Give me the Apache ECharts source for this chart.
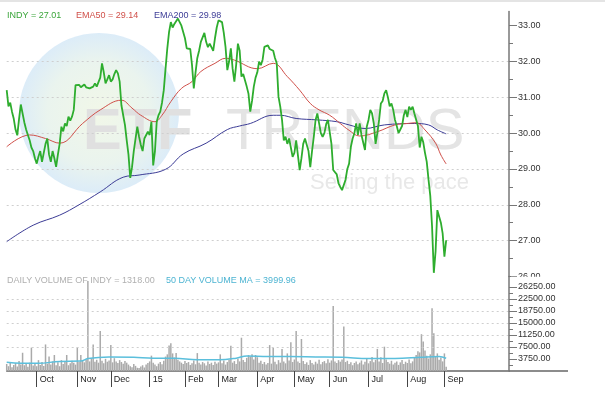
<!DOCTYPE html>
<html>
<head>
<meta charset="utf-8">
<script src="https://cdn.jsdelivr.net/npm/echarts@6/dist/echarts.min.js"></script>
<style>
html, body { margin: 0; padding: 0; background: #fff; }
#chart { width: 605px; height: 397px; }
</style>
</head>
<body>
<div id="chart"></div>
<script>
// trading day index -> month start, labels on the time axis
var monthIdx = [17, 40, 59, 81, 101, 120, 142, 163, 183, 205, 227, 248];
var monthNames = ['Oct', 'Nov', 'Dec', '15', 'Feb', 'Mar', 'Apr', 'May', 'Jun', 'Jul', 'Aug', 'Sep'];
var priceTicks = [26, 27, 28, 29, 30, 31, 32, 33];
var priceMinor = [26.5, 27.5, 28.5, 29.5, 30.5, 31.5, 32.5];
var volTicks = [3750, 7500, 11250, 15000, 18750, 22500, 26250];
var volMinor = [1875, 5625, 9375, 13125, 16875, 20625, 24375];

// daily close, one value per trading day
var price = [
  31.20, 30.75, 30.85, 30.60, 30.40, 30.10, 29.94, 30.40, 30.80, 30.55,
  30.30, 30.10, 29.95, 29.80, 29.60, 29.50, 29.30, 29.15, 29.35, 29.50,
  29.20, 29.45, 29.70, 29.85, 29.40, 29.20, 29.50, 29.30, 29.06, 29.40,
  29.70, 30.18, 30.05, 30.27, 30.20, 30.46, 30.35, 30.46, 30.65, 31.34,
  31.30, 31.35, 31.28, 31.32, 31.36, 31.28, 31.30, 31.25, 31.22, 31.30,
  31.39, 31.30, 31.35, 31.55, 31.95, 31.70, 31.39, 31.50, 31.62, 31.44,
  31.50, 31.65, 31.76, 31.67, 31.44, 30.78, 30.50, 30.23, 29.80, 29.40,
  28.75, 29.05, 29.50, 29.85, 30.18, 29.90, 29.67, 29.50, 29.85, 29.90,
  30.04, 29.95, 30.32, 29.10, 29.50, 30.32, 30.50, 30.60, 30.85, 31.20,
  31.80, 32.37, 32.83, 33.10, 32.95, 33.05, 33.00, 33.20, 33.10, 33.00,
  33.00, 32.65, 32.37, 32.40, 32.35, 31.90, 31.25, 31.70, 32.10, 32.30,
  32.55, 32.60, 32.80, 32.55, 32.40, 32.50, 32.40, 32.30, 32.65, 32.95,
  33.15, 33.20, 33.10, 32.80, 32.40, 31.76, 32.00, 32.37, 31.80, 31.44,
  31.90, 32.50, 32.30, 31.58, 31.65, 31.60, 31.30, 31.10, 30.60, 30.90,
  31.30, 31.55, 31.70, 32.00, 31.90, 32.05, 32.41, 32.40, 32.45, 32.35,
  32.40, 32.30, 32.10, 31.95, 31.02, 30.74, 30.37, 29.80, 29.90, 29.70,
  29.85, 29.60, 29.34, 29.45, 29.80, 29.85, 28.97, 29.30, 29.70, 29.85,
  29.90, 29.50, 29.05, 29.50, 29.90, 30.37, 30.55, 30.50, 30.00, 29.90,
  30.00, 30.25, 30.37, 30.35, 29.70, 28.97, 28.95, 28.85, 28.60, 28.50,
  28.41, 28.45, 28.70, 29.00, 29.15, 29.62, 29.85, 30.00, 30.27, 29.95,
  30.27, 29.95, 29.90, 29.53, 30.18, 30.37, 30.65, 30.55, 30.27, 29.70,
  30.00, 30.37, 30.83, 30.90, 31.11, 31.20, 31.00, 30.75, 30.83, 30.65,
  30.37, 30.20, 30.00, 29.95, 30.20, 30.50, 30.65, 30.45, 30.74, 30.65,
  30.74, 30.55, 30.50, 30.20, 29.60, 29.90, 29.75, 29.45, 29.20, 28.70,
  28.25, 27.40, 26.10, 26.70, 27.85, 27.90, 27.50, 27.20, 26.55, 27.01
];

// moving averages read at points along the curves: [trading day, value]
var ema50 = [
  [0, 29.62], [13, 29.95], [22, 29.85], [30, 29.72], [43, 30.27], [53, 30.65],
  [65, 30.92], [71, 30.70], [76, 30.50], [84, 30.32], [88, 30.50], [93, 30.88],
  [99, 31.25], [105, 31.44], [110, 31.72], [118, 31.95], [124, 32.09], [129, 32.04],
  [142, 31.80], [151, 31.95], [159, 31.58], [166, 31.20], [172, 30.83], [177, 30.65],
  [183, 30.50], [189, 30.27], [194, 30.08], [200, 29.92], [210, 30.04], [220, 30.23],
  [227, 30.27], [232, 30.29], [237, 30.09], [243, 29.72], [246, 29.39], [249, 29.14]
];
var ema200 = [
  [0, 26.97], [15, 27.43], [30, 27.71], [41, 28.00], [53, 28.36], [66, 28.77],
  [75, 28.83], [90, 28.99], [100, 29.42], [113, 29.72], [125, 30.10], [132, 30.20],
  [138, 30.27], [151, 30.50], [155, 30.50], [164, 30.41], [176, 30.37], [187, 30.32],
  [194, 30.23], [203, 30.13], [214, 30.23], [231, 30.27], [239, 30.23], [244, 30.09],
  [249, 29.98]
];

// daily volume, one value per trading day
var volume = [
  2200, 1500, 2800, 1200, 1900, 2500, 1400, 3100, 2000, 5700,
  1800, 2400, 1300, 2600, 7300, 1700, 2200, 1500, 3400, 1900,
  2800, 1600, 8300, 2300, 4500, 2000, 3000, 5000, 1800, 2700,
  1500, 3400, 2200, 2900, 5000, 1800, 2400, 3200, 2600, 2000,
  7400, 2800, 5000, 3300, 2700, 3600, 28100, 3000, 4000, 8300,
  2900, 3500, 2600, 12500, 3200, 2400, 3800, 2900, 3300, 8100,
  2700, 4000, 3000, 2500, 3400, 2800, 2300, 3100, 2600, 2000,
  1500, 1200, 2200, 1600, 1000, 900, 1400, 1800, 1100, 2000,
  2500, 3000, 4800, 2600, 2000, 1500, 2300, 2800, 2100, 3200,
  4500, 5200, 8000, 8700, 5500, 4200, 5600, 3500, 3000, 2600,
  2200, 3100, 2500, 2800, 1900, 2400, 3300, 2100, 5600, 2600,
  2000, 2800, 2400, 1700, 3000, 2200, 2600, 1900, 2900, 2300,
  2700, 5200, 2400, 3300, 2000, 2800, 3500, 7900, 2600, 3100,
  2200, 3800, 3000, 10400, 3400, 2800, 4100, 5000, 4500, 5200,
  3600, 5000, 4300, 2600, 3200, 2200, 2800, 2000, 2500, 8100,
  2300, 7300, 2900, 2100, 3400, 2600, 6900, 3000, 2400, 5500,
  3300, 9000, 2800, 3600, 12500, 3000, 2500, 10000, 3100, 2200,
  2700, 1900, 3400, 2500, 2000, 2900, 2300, 3500, 2100, 2800,
  3100, 2400, 3700, 2600, 3300, 20300, 3000, 2500, 3400, 2900,
  3600, 13900, 2800, 3200, 2200, 2700, 1800, 2500, 3000, 2100,
  2600, 3300, 2000, 2900, 3800, 2400, 3100, 4400, 2700, 3500,
  6900, 3000, 4300, 2500, 7600, 3600, 2800, 2300, 3200, 2000,
  2600, 3000, 1900, 2700, 3400, 2200, 2900, 2500, 3600, 2400,
  3000, 4200, 5000, 6200, 5800, 11500, 9200, 6400, 4800, 3900,
  5200, 19600, 11800, 4600, 5500, 3500, 4200, 3000, 5500, 1318
];
var volMA = [
  [0, 2700], [8, 2400], [18, 2400], [30, 3000], [42, 3100], [46, 3900],
  [58, 4400], [72, 4300], [83, 4000], [95, 4000], [108, 3500], [120, 3500],
  [130, 4000], [136, 4700], [148, 4500], [160, 4500], [175, 4400], [190, 4300],
  [205, 3900], [220, 3900], [235, 4300], [245, 4500], [249, 3999.96]
];

var FONT = '"Liberation Sans", Arial, sans-serif';
var chart = echarts.init(document.getElementById('chart'));

function lastOf(arr) {
  var v = arr[arr.length - 1];
  return Array.isArray(v) ? v[1] : v;
}

function tag(name, left, top, color, value) {
  return {
    data: [{ name: name, icon: 'none' }],
    left: left, top: top, padding: 0,
    itemWidth: 0, itemHeight: 10, itemGap: 0,
    selectedMode: false,
    textStyle: { color: color, fontSize: 9, fontFamily: FONT },
    formatter: function (n) { return n + ' = ' + value.toFixed(2); }
  };
}

var gridLine = { show: true, showMinLine: false, showMaxLine: false,
  lineStyle: { color: '#cfcfcf', width: 1, type: [2, 3] } };
var axisTxt = { color: '#333', fontSize: 9, fontFamily: FONT };
var PRICE_BOX = { left: 6.7, right: 96, top: 11.4, height: 265, outerBoundsMode: 'none' };
var VOL_BOX = { left: 6.7, right: 96, top: 276.6, height: 94.4, outerBoundsMode: 'none' };

function hiddenX(g) {
  return { type: 'value', gridIndex: g, min: 0, max: 284.6, show: false };
}
// extra axis that only draws short in-between ticks
function minorY(g, min, max, vals) {
  return {
    type: 'value', gridIndex: g, position: 'right', min: min, max: max,
    axisLine: { show: false, onZero: false }, splitLine: { show: false },
    axisLabel: { show: false },
    axisTick: { show: true, length: 4, customValues: vals, lineStyle: { color: '#777' } }
  };
}

var option = {
  animation: false,
  backgroundColor: '#fff',
  legend: [
    tag('INDY', 2, 10.5, '#3aa53a', lastOf(price)),
    tag('EMA50', 71, 10.5, '#d0504a', lastOf(ema50)),
    tag('EMA200', 149, 10.5, '#3c3c96', lastOf(ema200)),
    tag('DAILY VOLUME OF INDY', 2, 275.5, '#b0b0b0', lastOf(volume)),
    tag('50 DAY VOLUME MA', 161, 275.5, '#4db4d2', lastOf(volMA))
  ],
  grid: [PRICE_BOX, VOL_BOX, PRICE_BOX, VOL_BOX],
  xAxis: [
    hiddenX(0),
    {
      type: 'value', gridIndex: 1, min: 0, max: 284.6,
      splitLine: { show: false },
      axisLine: { show: true, onZero: false, lineStyle: { color: '#666', width: 1.5 } },
      axisTick: { show: true, length: 16, customValues: monthIdx, lineStyle: { color: '#444' } },
      axisLabel: {
        customValues: monthIdx, align: 'left', margin: 4, padding: [0, 0, 0, 3],
        color: '#222', fontSize: 9, fontFamily: FONT,
        formatter: function (v) {
          var k = monthIdx.indexOf(Math.round(v));
          return k >= 0 ? monthNames[k] : '';
        }
      }
    },
    hiddenX(2),
    hiddenX(3)
  ],
  yAxis: [
    {
      type: 'value', gridIndex: 0, position: 'right', min: 26, max: 33.4, interval: 1,
      axisLine: { show: true, onZero: false, lineStyle: { color: '#777', width: 1.5 } },
      axisTick: { show: true, length: 8, customValues: priceTicks, lineStyle: { color: '#777' } },
      axisLabel: Object.assign({ customValues: priceTicks, margin: 9,
        formatter: function (v) { return v.toFixed(2); } }, axisTxt),
      splitLine: gridLine
    },
    {
      type: 'value', gridIndex: 1, position: 'right', min: 0, max: 29500, interval: 3750,
      z: 5,
      axisLine: { show: true, onZero: false, lineStyle: { color: '#777', width: 1.5 } },
      axisTick: { show: true, length: 8, customValues: volTicks, lineStyle: { color: '#777' } },
      axisLabel: Object.assign({ customValues: volTicks, margin: 9,
        formatter: function (v) { return v.toFixed(2); } }, axisTxt),
      splitLine: gridLine
    },
    minorY(2, 26, 33.4, priceMinor),
    minorY(3, 0, 29500, volMinor)
  ],
  graphic: [
    { type: 'rect', z: -5, shape: { x: 0, y: 0, width: 605, height: 2 }, style: { fill: '#e4e4e4' } },
    {
      type: 'circle', z: -10, shape: { cx: 99, cy: 113, r: 80 },
      style: { fill: { type: 'radial', x: 0.5, y: 0.5, r: 0.5, colorStops: [
        { offset: 0, color: '#f1f7e8' }, { offset: 0.65, color: '#eaf4ee' }, { offset: 1, color: '#dcecf8' }
      ] } }
    },
    { type: 'text', z: -9, x: 83, y: 133,
      style: { text: 'ETF', fontSize: 58, fontWeight: 'bold', fontFamily: FONT, fill: '#e0e0e0', verticalAlign: 'middle' } },
    { type: 'text', z: -9, x: 226, y: 133,
      style: { text: 'TRENDS', fontSize: 58, fontFamily: FONT, fill: '#e4e4e4', verticalAlign: 'middle' } },
    { type: 'text', z: -9, x: 310, y: 183,
      style: { text: 'Setting the pace', fontSize: 22, fontFamily: FONT, fill: '#e8e8e8', verticalAlign: 'middle' } },
    { type: 'line', z: 5, shape: { x1: 509, y1: 371, x2: 568, y2: 371 }, style: { stroke: '#666', lineWidth: 1.5 } },
    { type: 'rect', z: 10, shape: { x: 511, y: 276.8, width: 50, height: 4.5 }, style: { fill: '#fff' } }
  ],
  series: [
    {
      name: 'EMA200', type: 'line', xAxisIndex: 0, yAxisIndex: 0,
      data: ema200, smooth: 0.4, showSymbol: false, silent: true,
      lineStyle: { color: '#3c3c96', width: 1 }, itemStyle: { color: '#3c3c96' }
    },
    {
      name: 'EMA50', type: 'line', xAxisIndex: 0, yAxisIndex: 0,
      data: ema50, smooth: 0.4, showSymbol: false, silent: true,
      lineStyle: { color: '#d0504a', width: 1 }, itemStyle: { color: '#d0504a' }
    },
    {
      name: 'INDY', type: 'line', xAxisIndex: 0, yAxisIndex: 0,
      data: price.map(function (v, i) { return [i, v]; }),
      showSymbol: false, silent: true,
      lineStyle: { color: '#2ead2e', width: 1.8 }, itemStyle: { color: '#2ead2e' }
    },
    {
      name: 'DAILY VOLUME OF INDY', type: 'bar', xAxisIndex: 1, yAxisIndex: 1,
      data: volume.map(function (v, i) { return [i, v]; }),
      barWidth: 1.5, silent: true, itemStyle: { color: '#aaaaaa' }
    },
    {
      name: '50 DAY VOLUME MA', type: 'line', xAxisIndex: 1, yAxisIndex: 1,
      data: volMA, smooth: 0.4, showSymbol: false, silent: true,
      lineStyle: { color: '#5bbfdc', width: 1.5 }, itemStyle: { color: '#5bbfdc' }
    }
  ]
};

chart.setOption(option);
</script>
</body>
</html>
